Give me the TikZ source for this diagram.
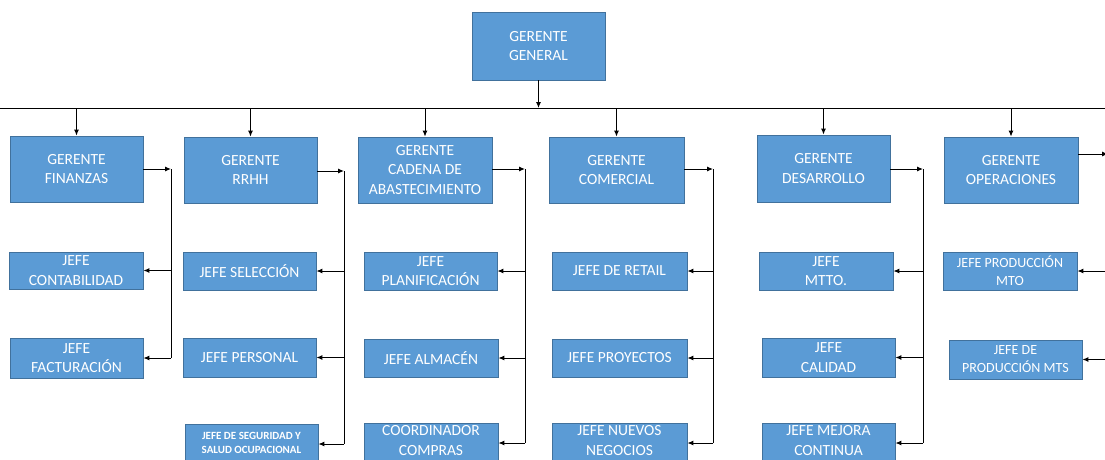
\documentclass[tikz,border=0pt]{standalone}
\usepackage{fontspec}
\setmainfont{Carlito}
\usetikzlibrary{arrows.meta}
\definecolor{boxblue}{HTML}{5B9BD5}
\definecolor{boxedge}{HTML}{41719C}
\begin{document}
\begin{tikzpicture}[x=1pt,y=-1pt,
  box/.style={draw=boxedge, fill=boxblue, text=white, align=center, inner sep=0pt,
    line width=0.8pt, font=\fontsize{15.5}{19.5}\selectfont},
  smallbox/.style={box, font=\bfseries\fontsize{11}{14}\selectfont},
  boxtext/.style={text=white, align=center, inner sep=0pt, font=\fontsize{15.5}{19.5}\selectfont},
  link/.style={line width=1pt, draw=black},
  arr/.style={link, -{Latex[length=6pt,width=5pt]}}]
\useasboundingbox (0,0) rectangle (1105,459);

% top manager and bus
\node[box, minimum width=133pt, minimum height=68pt] (gg) at (538.5,46) {GERENTE\\GENERAL};
\coordinate (busL) at (0,108);
\coordinate (busR) at (1105,108);
\draw[link] (busL) -- (busR);
\draw[arr] (gg.south) -- (gg.south |- busL);

% second-level managers
\node[box, minimum width=133pt, minimum height=66pt] (fin) at (76.5,169) {GERENTE\\FINANZAS};
\node[box, minimum width=133pt, minimum height=66pt] (rrhh) at (250.5,170) {GERENTE\\RRHH};
\node[box, minimum width=134pt, minimum height=66pt] (cad) at (425,170) {GERENTE\\CADENA DE\\ABASTECIMIENTO};
\node[box, minimum width=135pt, minimum height=66pt] (com) at (616.5,170) {GERENTE\\COMERCIAL};
\node[box, minimum width=133pt, minimum height=67pt] (des) at (823.5,168.5) {GERENTE\\DESARROLLO};
\node[box, minimum width=134pt, minimum height=66pt] (ope) at (1011,170) {GERENTE\\OPERACIONES};

\foreach \n in {fin,rrhh,cad,com,des,ope}
  \draw[arr] (\n.north |- busL) -- (\n.north);

% heads of department
\node[box, minimum width=134pt, minimum height=37pt] (conta) at (76,270.5) {JEFE\\CONTABILIDAD};
\node[box, minimum width=133pt, minimum height=40pt] (fact) at (76.5,358) {JEFE\\FACTURACIÓN};

\node[box, minimum width=133pt, minimum height=38pt] (sel) at (249.5,271) {JEFE SELECCIÓN};
\node[box, minimum width=133pt, minimum height=39pt] (pers) at (249.5,357.5) {JEFE PERSONAL};
\node[smallbox, minimum width=133pt, minimum height=40pt] (seg) at (251.5,444) {};
\node[boxtext, font=\bfseries\fontsize{11}{14}\selectfont] (segtxt) at ([yshift=1pt]seg.center) {JEFE DE SEGURIDAD Y\\SALUD OCUPACIONAL};

\node[box, minimum width=133pt, minimum height=38pt] (plan) at (430.5,271) {JEFE\\PLANIFICACIÓN};
\node[box, minimum width=134pt, minimum height=38pt] (alm) at (431,358) {JEFE ALMACÉN};
\node[box, minimum width=134pt, minimum height=40pt] (coord) at (431,443) {};
\node[boxtext] (coordtxt) at ([yshift=2.5pt]coord.center) {COORDINADOR\\COMPRAS};

\node[box, minimum width=135pt, minimum height=38pt] (ret) at (619.5,271) {JEFE DE RETAIL};
\node[box, minimum width=135pt, minimum height=38pt] (proy) at (619.5,358) {JEFE PROYECTOS};
\node[box, minimum width=135pt, minimum height=40pt] (nue) at (619.5,443) {};
\node[boxtext] (nuetxt) at ([yshift=2.5pt]nue.center) {JEFE NUEVOS\\NEGOCIOS};

\node[box, minimum width=134pt, minimum height=38pt] (mtto) at (826,271) {JEFE\\MTTO.};
\node[box, minimum width=133pt, minimum height=39pt] (cal) at (828.5,357.5) {JEFE\\CALIDAD};
\node[box, minimum width=133pt, minimum height=40pt] (mej) at (828.5,443) {};
\node[boxtext] (mejtxt) at ([yshift=2.5pt]mej.center) {JEFE MEJORA\\CONTINUA};

\node[box, font=\fontsize{14}{18}\selectfont, minimum width=134pt, minimum height=38pt] (pmto) at (1010,271) {JEFE PRODUCCIÓN\\MTO};
\node[box, font=\fontsize{14}{18}\selectfont, minimum width=133pt, minimum height=39pt] (pmts) at (1015.5,359.5) {JEFE DE\\PRODUCCIÓN MTS};

% side spines feeding each department
\coordinate (sfin) at (171,169);
\draw[arr] (fin.east) -- (sfin);
\draw[link] (sfin) -- (sfin |- fact.east);
\foreach \j in {conta,fact} \draw[arr] (sfin |- \j.east) -- (\j.east);

\coordinate (srrhh) at (344,171);
\draw[arr] (rrhh.east |- srrhh) -- (srrhh);
\draw[link] (srrhh) -- (srrhh |- seg.east);
\foreach \j in {sel,pers,seg} \draw[arr] (srrhh |- \j.east) -- (\j.east);

\coordinate (scad) at (525,169);
\draw[arr] (cad.east |- scad) -- (scad);
\draw[link] (scad) -- (scad |- coord.east);
\foreach \j in {plan,alm,coord} \draw[arr] (scad |- \j.east) -- (\j.east);

\coordinate (scom) at (713,169);
\draw[arr] (com.east |- scom) -- (scom);
\draw[link] (scom) -- (scom |- nue.east);
\foreach \j in {ret,proy,nue} \draw[arr] (scom |- \j.east) -- (\j.east);

\coordinate (sdes) at (923,169);
\draw[arr] (des.east |- sdes) -- (sdes);
\draw[link] (sdes) -- (sdes |- mej.east);
\foreach \j in {mtto,cal,mej} \draw[arr] (sdes |- \j.east) -- (\j.east);

\coordinate (sope) at (1108,154);
\draw[arr] (ope.east |- sope) -- (sope);
\draw[link] (sope) -- (sope |- pmts.east);
\foreach \j in {pmto,pmts} \draw[arr] (sope |- \j.east) -- (\j.east);
\end{tikzpicture}
\end{document}
